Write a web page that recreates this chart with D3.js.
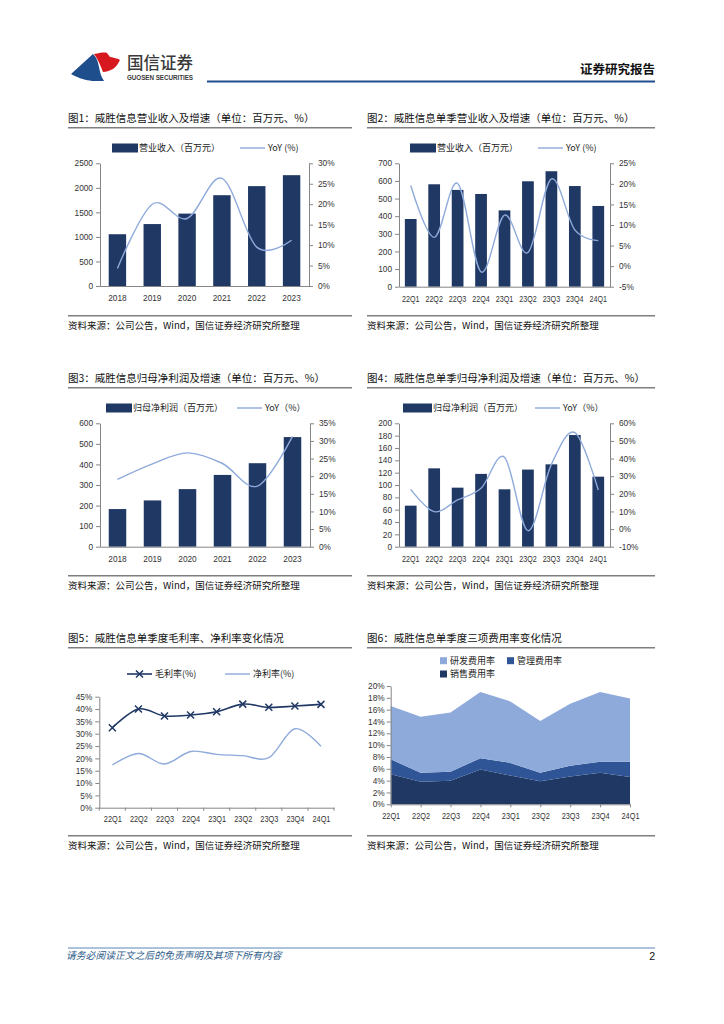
<!DOCTYPE html>
<html><head><meta charset="utf-8">
<script src="https://cdn.jsdelivr.net/npm/d3@7"></script>
<style>
body{margin:0;background:#fff;}
svg{display:block;}
</style></head><body>
<svg id="c" width="724" height="1024"></svg>
<script>
// ---------- DATA ----------
const years = ["2018","2019","2020","2021","2022","2023"];
const quarters = ["22Q1","22Q2","22Q3","22Q4","23Q1","23Q2","23Q3","23Q4","24Q1"];
const revAnnual = [1055,1262,1475,1850,2035,2258];
const revAnnualYoY = [4.3,20.0,16.5,26.3,9.5,11.2];
const revQuarter = [384,581,549,526,433,598,655,571,458];
const revQuarterYoY = [19.6,7.0,20.1,-1.4,12.4,3.3,21.2,8.8,6.2];
const npAnnual = [183,225,280,349,406,533];
const npAnnualYoY = [19.1,23.5,26.6,23.6,17.2,31.3];
const npQuarter = [66.5,127,95.7,118,93,125,133.5,181,113.5];
const npQuarterYoY = [22.5,9.9,16.5,23.1,40.7,-0.9,36.7,54.7,22.2];
const grossMargin = [32.4,40.0,37.2,37.6,38.9,42.0,40.7,41.2,41.9];
const netMargin = [17.3,22.0,17.7,22.8,21.6,21.1,20.3,32.0,24.9];
const salesRate = [5.1,3.8,4.0,5.9,4.85,3.9,4.7,5.35,4.6];
const mgmtRate = [2.5,1.55,1.5,1.9,2.15,1.45,1.8,1.85,2.6];
const rdRate = [9.0,9.45,10.0,11.2,10.4,8.75,10.5,11.8,10.7];

const ticksRevA = [0,500,1000,1500,2000,2500];
const ticksRevAYoY = [0,5,10,15,20,25,30];
const ticksRevQ = [0,100,200,300,400,500,600,700];
const ticksRevQYoY = [-5,0,5,10,15,20,25];
const ticksNpA = [0,100,200,300,400,500,600];
const ticksNpAYoY = [0,5,10,15,20,25,30,35];
const ticksNpQ = [0,20,40,60,80,100,120,140,160,180,200];
const ticksNpQYoY = [-10,0,10,20,30,40,50,60];
const ticksMargin = [0,5,10,15,20,25,30,35,40,45];
const ticksExpense = [0,2,4,6,8,10,12,14,16,18,20];

const titles = [
  "图1：威胜信息营业收入及增速（单位：百万元、%）",
  "图2：威胜信息单季营业收入及增速（单位：百万元、%）",
  "图3：威胜信息归母净利润及增速（单位：百万元、%）",
  "图4：威胜信息单季归母净利润及增速（单位：百万元、%）",
  "图5：威胜信息单季度毛利率、净利率变化情况",
  "图6：威胜信息单季度三项费用率变化情况"
];
const sourceText = "资料来源：公司公告，Wind，国信证券经济研究所整理";

// ---------- STYLE ----------
const svg = d3.select("#c");
const CJK = '"Noto Sans CJK SC","Liberation Sans",sans-serif';
const NUM = '"Liberation Sans","Noto Sans CJK SC",sans-serif';
const NAVY = "#203864", LIGHT = "#8eaadb", MID = "#2f5597", AXIS = "#868686";
const fmtInt = d3.format("d");

// ---------- HEADER ----------
const logo = svg.append("g");
logo.append("path").attr("d","M71,74 L93,54 C97,58 98,62 99,67 C100,72 101,77 104,81 L92,81 C86,80 80,79 71,74 Z").attr("fill","#1f4e8c");
logo.append("path").attr("d","M94,54 C100,53 104,52 107,53 L110,57 C114,58 117,58 120,60 C118,64 116,67 113,69 C109,71 106,72 103,72 C101,67 99,61 94,54 Z").attr("fill","#d7191f");
svg.append("text").attr("x",127).attr("y",69).attr("font-family",CJK).attr("font-size",16.5).attr("font-weight",500).attr("fill","#3a3a3a").text("国信证券");
svg.append("text").attr("x",127).attr("y",80).attr("font-family",NUM).attr("font-size",6.3).attr("font-weight",700).attr("fill","#3a3a3a").attr("textLength",66).text("GUOSEN SECURITIES");
svg.append("line").attr("x1",207).attr("x2",655).attr("y1",81.5).attr("y2",81.5).attr("stroke","#1f4e8c").attr("stroke-width",2);
svg.append("text").attr("x",655).attr("y",74).attr("text-anchor","end").attr("font-family",CJK).attr("font-size",12.5).attr("font-weight",700).attr("fill","#111").text("证券研究报告");

// ---------- FOOTER ----------
svg.append("line").attr("x1",68).attr("x2",655).attr("y1",948).attr("y2",948).attr("stroke","#5a86b8").attr("stroke-width",1);
svg.append("text").attr("x",66).attr("y",959).attr("font-family",CJK).attr("font-size",9.8).attr("font-style","italic").attr("fill","#2e5c8a").text("请务必阅读正文之后的免责声明及其项下所有内容");
svg.append("text").attr("x",655).attr("y",960).attr("text-anchor","end").attr("font-family",NUM).attr("font-size",10.5).attr("fill","#111").text("2");

// ---------- PANELS ----------
function panel(x0,x1,dy,title){
  svg.append("text").attr("x",x0).attr("y",122+dy).attr("font-family",CJK).attr("font-size",10.5).attr("fill","#111").text(title);
  svg.append("line").attr("x1",x0).attr("x2",x1).attr("y1",127.7+dy).attr("y2",127.7+dy).attr("stroke","#7f7f7f").attr("stroke-width",1.5);
  svg.append("line").attr("x1",x0).attr("x2",x1).attr("y1",315.7+dy).attr("y2",315.7+dy).attr("stroke","#7f7f7f").attr("stroke-width",1.5);
  svg.append("text").attr("x",x0).attr("y",329+dy).attr("font-family",CJK).attr("font-size",9.5).attr("fill","#111").text(sourceText);
}
panel(68,352,0,titles[0]);
panel(367,655,0,titles[1]);
panel(68,352,260,titles[2]);
panel(367,655,260,titles[3]);
panel(68,352,520,titles[4]);
panel(367,655,520,titles[5]);

function styleAxis(g, squeeze){
  g.selectAll(".domain").attr("stroke",AXIS);
  g.selectAll(".tick line").attr("stroke",AXIS);
  const t = g.selectAll("text").attr("font-family",NUM).attr("font-size",8.3).attr("fill","#333");
  if (squeeze) t.attr("font-size",9).attr("textLength",squeeze).attr("lengthAdjust","spacingAndGlyphs");
}

function combo(o){
  const x = d3.scaleBand().domain(o.cats).range([o.x0,o.x1]).paddingInner(0.5).paddingOuter(0.25);
  const yL = d3.scaleLinear().domain(o.lDom).range([o.y1,o.y0]);
  const yR = d3.scaleLinear().domain(o.rDom).range([o.y1,o.y0]);
  const g = svg.append("g");
  g.selectAll(null).data(o.bars).join("rect")
    .attr("x",(d,i)=>x(o.cats[i])).attr("y",d=>yL(d))
    .attr("width",x.bandwidth()).attr("height",d=>yL(0)-yL(d)).attr("fill",NAVY);
  const la = g.append("g").attr("transform",`translate(${o.x0},0)`)
    .call(d3.axisLeft(yL).tickValues(o.lTicks).tickSize(4).tickSizeOuter(0).tickPadding(3).tickFormat(fmtInt));
  styleAxis(la);
  const ra = g.append("g").attr("transform",`translate(${o.x1},0)`)
    .call(d3.axisRight(yR).tickValues(o.rTicks).tickSize(4).tickSizeOuter(0).tickPadding(5).tickFormat(d=>d+"%"));
  styleAxis(ra);
  const ba = g.append("g").attr("transform",`translate(0,${o.y1})`)
    .call(d3.axisBottom(x).tickSize(0).tickPadding(9));
  styleAxis(ba, o.squeeze);
  const line = d3.line().x((d,i)=>x(o.cats[i])+x.bandwidth()/2).y(d=>yR(d)).curve(d3.curveCardinal.tension(0));
  g.append("path").datum(o.line).attr("d",line).attr("fill","none").attr("stroke",LIGHT).attr("stroke-width",1.4);
  // legend
  const ly = o.legY;
  g.append("rect").attr("x",o.leg[0]).attr("y",ly-4.5).attr("width",o.leg[1]-o.leg[0]).attr("height",9).attr("fill",NAVY);
  g.append("text").attr("x",o.leg[1]+1).attr("y",ly+3.3).attr("font-family",CJK).attr("font-size",9).attr("fill","#222").text(o.barLabel);
  g.append("line").attr("x1",o.leg[2]).attr("x2",o.leg[3]).attr("y1",ly).attr("y2",ly).attr("stroke",LIGHT).attr("stroke-width",1.4);
  g.append("text").attr("x",o.leg[3]+3).attr("y",ly+3.3).attr("font-family",CJK).attr("font-size",9).attr("fill","#222").text(o.lineLabel);
}

combo({cats:years,bars:revAnnual,line:revAnnualYoY,x0:100,x1:309,y0:163.3,y1:286,
  lDom:[0,2500],rDom:[0,30],lTicks:ticksRevA,rTicks:ticksRevAYoY,
  legY:148,leg:[112,138,240,265],barLabel:"营业收入（百万元）",lineLabel:"YoY (%)"});
combo({cats:quarters,bars:revQuarter,line:revQuarterYoY,x0:399,x1:610,y0:163.3,y1:286.7,
  lDom:[0,700],rDom:[-5,25],lTicks:ticksRevQ,rTicks:ticksRevQYoY,squeeze:17.5,
  legY:148,leg:[410,436,538,563],barLabel:"营业收入（百万元）",lineLabel:"YoY (%)"});
combo({cats:years,bars:npAnnual,line:npAnnualYoY,x0:100,x1:310,y0:423.3,y1:546.7,
  lDom:[0,600],rDom:[0,35],lTicks:ticksNpA,rTicks:ticksNpAYoY,
  legY:408,leg:[106,132,237,262],barLabel:"归母净利润（百万元）",lineLabel:"YoY（%）"});
combo({cats:quarters,bars:npQuarter,line:npQuarterYoY,x0:399,x1:610,y0:423.3,y1:546.7,
  lDom:[0,200],rDom:[-10,60],lTicks:ticksNpQ,rTicks:ticksNpQYoY,squeeze:17.5,
  legY:408,leg:[403,432,535,560],barLabel:"归母净利润（百万元）",lineLabel:"YoY（%）"});

// ---------- CHART 5 ----------
(function(){
  const x0=99.3,x1=334,y0=696.7,y1=807.7;
  const x = d3.scalePoint().domain(quarters).range([x0,x1]).padding(0.5);
  const y = d3.scaleLinear().domain([0,45]).range([y1,y0]);
  const g = svg.append("g");
  const la = g.append("g").attr("transform",`translate(${x0},0)`)
    .call(d3.axisLeft(y).tickValues(ticksMargin).tickSize(4).tickSizeOuter(0).tickPadding(3).tickFormat(d=>d+"%"));
  styleAxis(la);
  const ba = g.append("g").attr("transform",`translate(0,${y1})`)
    .call(d3.axisBottom(x).tickSize(0).tickSizeOuter(0).tickPadding(8));
  styleAxis(ba, 18);
  const step = x.step();
  g.selectAll(null).data(d3.range(quarters.length+1)).join("line")
    .attr("x1",i=>x0+i*step).attr("x2",i=>x0+i*step).attr("y1",y1).attr("y2",y1+3).attr("stroke",AXIS);
  const line = d3.line().x((d,i)=>x(quarters[i])).y(d=>y(d)).curve(d3.curveCardinal.tension(0));
  g.append("path").datum(netMargin).attr("d",line).attr("fill","none").attr("stroke",LIGHT).attr("stroke-width",1.4);
  g.append("path").datum(grossMargin).attr("d",line).attr("fill","none").attr("stroke",NAVY).attr("stroke-width",1.6);
  const xm = "M-3.5,-3.5L3.5,3.5M-3.5,3.5L3.5,-3.5";
  g.selectAll(null).data(grossMargin).join("path")
    .attr("transform",(d,i)=>`translate(${x(quarters[i])},${y(d)})`).attr("d",xm)
    .attr("stroke",NAVY).attr("stroke-width",1.5).attr("fill","none");
  // legend
  const ly=674;
  g.append("line").attr("x1",127).attr("x2",152).attr("y1",ly).attr("y2",ly).attr("stroke",NAVY).attr("stroke-width",1.6);
  g.append("path").attr("transform",`translate(139.5,${ly})`).attr("d",xm).attr("stroke",NAVY).attr("stroke-width",1.5);
  g.append("text").attr("x",155).attr("y",ly+3.3).attr("font-family",CJK).attr("font-size",9).attr("fill","#222").text("毛利率(%)");
  g.append("line").attr("x1",225).attr("x2",250).attr("y1",ly).attr("y2",ly).attr("stroke",LIGHT).attr("stroke-width",1.4);
  g.append("text").attr("x",253).attr("y",ly+3.3).attr("font-family",CJK).attr("font-size",9).attr("fill","#222").text("净利率(%)");
})();

// ---------- CHART 6 ----------
(function(){
  const x0=390.7,x1=630,y0=686,y1=804.3;
  const x = d3.scalePoint().domain(quarters).range([x0,x1]).padding(0);
  const y = d3.scaleLinear().domain([0,20]).range([y1,y0]);
  const rows = quarters.map((q,i)=>({q,sales:salesRate[i],mgmt:mgmtRate[i],rd:rdRate[i]}));
  const keys = ["sales","mgmt","rd"];
  const colors = {sales:NAVY,mgmt:MID,rd:LIGHT};
  const series = d3.stack().keys(keys)(rows);
  const area = d3.area().x(d=>x(d.data.q)).y0(d=>y(d[0])).y1(d=>y(d[1]));
  const g = svg.append("g");
  g.selectAll(null).data(series).join("path").attr("d",area).attr("fill",d=>colors[d.key]);
  const la = g.append("g").attr("transform",`translate(${x0},0)`)
    .call(d3.axisLeft(y).tickValues(ticksExpense).tickSize(4).tickSizeOuter(0).tickPadding(2).tickFormat(d=>d+"%"));
  styleAxis(la);
  const ba = g.append("g").attr("transform",`translate(0,${y1})`)
    .call(d3.axisBottom(x).tickSize(3).tickSizeOuter(0).tickPadding(5));
  styleAxis(ba, 18);
  const leg = [
    {k:"rd",label:"研发费用率",x:440,y:660.7},
    {k:"mgmt",label:"管理费用率",x:507,y:660.7},
    {k:"sales",label:"销售费用率",x:440,y:674}
  ];
  leg.forEach(l=>{
    g.append("rect").attr("x",l.x).attr("y",l.y-3.5).attr("width",7).attr("height",7).attr("fill",colors[l.k]);
    g.append("text").attr("x",l.x+10).attr("y",l.y+3.3).attr("font-family",CJK).attr("font-size",9).attr("fill","#222").text(l.label);
  });
})();
</script>
</body></html>
